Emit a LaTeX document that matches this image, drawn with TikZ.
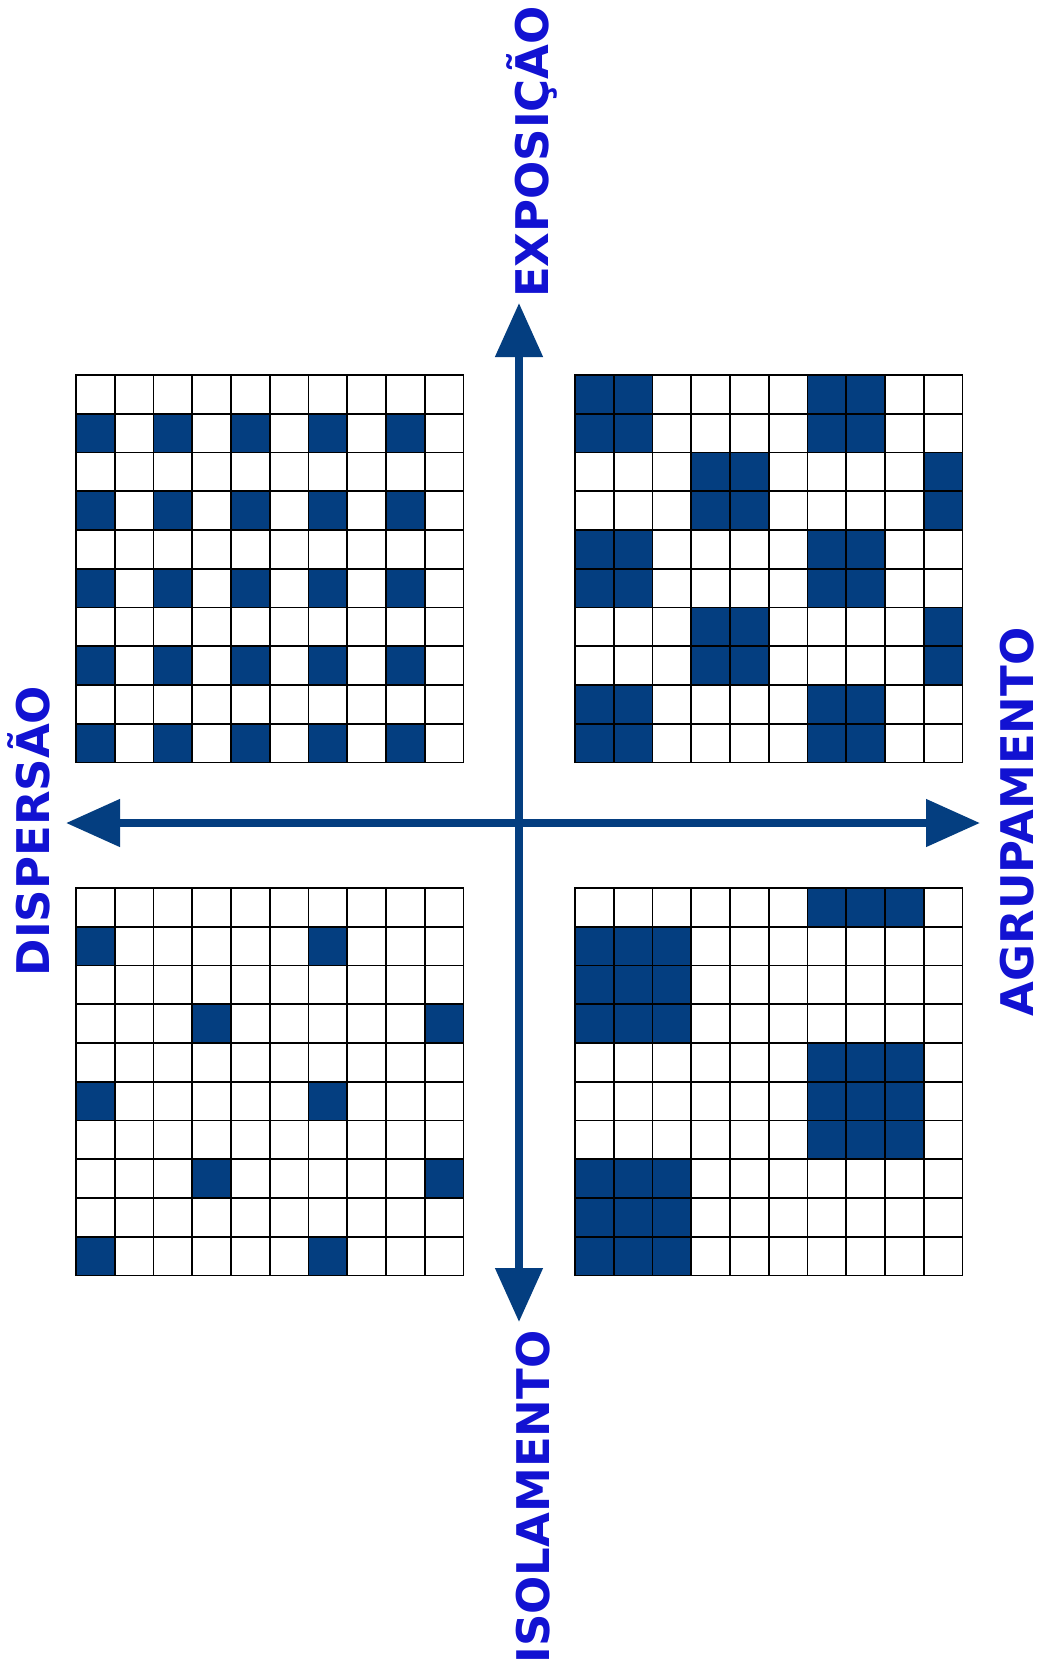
\documentclass[tikz,border=0pt]{standalone}
\usepackage{fontspec}
\setmainfont{DejaVu Sans}
\usetikzlibrary{arrows.meta}
\definecolor{navy}{RGB}{4,62,128}
\definecolor{lblue}{RGB}{18,18,210}
\newcommand\cs{38.75}
\tikzset{
 cellfill/.style={fill=navy},
 gridline/.style={draw=black, line width=1.8pt, line cap=rect},
 axis/.style={draw=navy, line width=8pt, {Triangle[length=54pt,width=46pt]}-{Triangle[length=54pt,width=46pt]}},
 axlabel/.style={text=lblue, font=\fontsize{45}{45}\selectfont\bfseries, rotate=90, anchor=base, inner sep=0pt}
}
\begin{document}
\begin{tikzpicture}[x=1pt,y=1pt]
\fill[white] (0,0) rectangle (1042,-1673);
\useasboundingbox (0,0) rectangle (1042,-1673);

% top-left grid
\begin{scope}[shift={(76,-375)}]
\foreach \r in {1,3,5,7,9}{\foreach \c in {0,2,4,6,8}{\fill[cellfill] (\c*\cs,-\r*\cs) rectangle ++(\cs,-\cs);}}
\foreach \i in {0,...,10}{\draw[gridline] (\i*\cs,0) -- (\i*\cs,-10*\cs); \draw[gridline] (0,-\i*\cs) -- (10*\cs,-\i*\cs);}
\end{scope}

% top-right grid
\begin{scope}[shift={(575,-375)}]
\foreach \c/\r/\w/\h in {0/0/2/2,6/0/2/2,3/2/2/2,9/2/1/2,0/4/2/2,6/4/2/2,3/6/2/2,9/6/1/2,0/8/2/2,6/8/2/2}{\fill[cellfill] (\c*\cs,-\r*\cs) rectangle ++(\w*\cs,-\h*\cs);}
\foreach \i in {0,...,10}{\draw[gridline] (\i*\cs,0) -- (\i*\cs,-10*\cs); \draw[gridline] (0,-\i*\cs) -- (10*\cs,-\i*\cs);}
\end{scope}

% bottom-left grid
\begin{scope}[shift={(76,-888)}]
\foreach \c/\r in {0/1,6/1,3/3,9/3,0/5,6/5,3/7,9/7,0/9,6/9}{\fill[cellfill] (\c*\cs,-\r*\cs) rectangle ++(\cs,-\cs);}
\foreach \i in {0,...,10}{\draw[gridline] (\i*\cs,0) -- (\i*\cs,-10*\cs); \draw[gridline] (0,-\i*\cs) -- (10*\cs,-\i*\cs);}
\end{scope}

% bottom-right grid
\begin{scope}[shift={(575,-888)}]
\foreach \c/\r/\w/\h in {6/0/3/1,0/1/3/3,6/4/3/3,0/7/3/3}{\fill[cellfill] (\c*\cs,-\r*\cs) rectangle ++(\w*\cs,-\h*\cs);}
\foreach \i in {0,...,10}{\draw[gridline] (\i*\cs,0) -- (\i*\cs,-10*\cs); \draw[gridline] (0,-\i*\cs) -- (10*\cs,-\i*\cs);}
\end{scope}

% axes
\coordinate (C) at (519,-823);
\coordinate (N) at (519,-303);
\coordinate (S) at (519,-1322);
\coordinate (W) at (66,-823);
\coordinate (E) at (980,-823);
\draw[axis] (W) -- (E);
\draw[axis] (S) -- (N);

% labels
\node[axlabel] (lexp) at (548,-152) {EXPOSIÇÃO};
\node[axlabel] (liso) at (549,-1497) {ISOLAMENTO};
\node[axlabel] (ldis) at (49,-831) {DISPERSÃO};
\node[axlabel] (lagr) at (1033,-822) {AGRUPAMENTO};
\end{tikzpicture}
\end{document}
